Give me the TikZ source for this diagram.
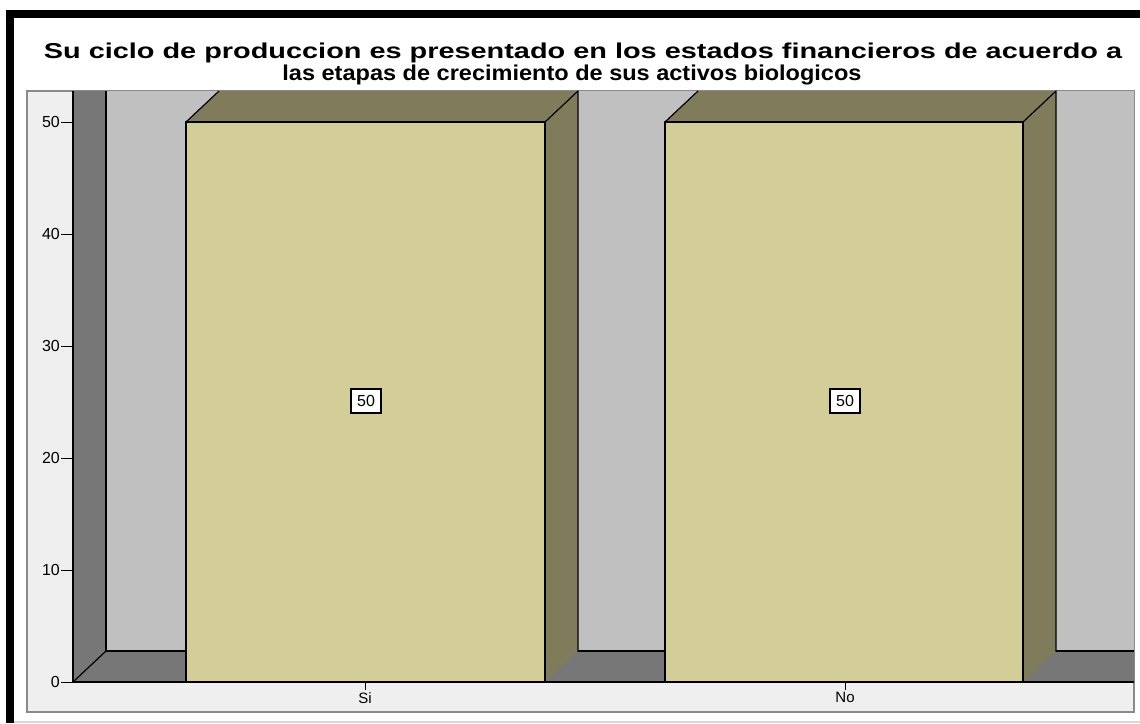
\documentclass[tikz,border=0pt]{standalone}
\usepackage{fontspec}
\setmainfont{Liberation Sans}
\definecolor{panel}{HTML}{EFEFEF}
\definecolor{backwall}{HTML}{C0C0C0}
\definecolor{sidewall}{HTML}{777777}
\definecolor{barfront}{HTML}{D3CE98}
\definecolor{barside}{HTML}{807C5B}
\definecolor{panelline}{HTML}{8A8A8A}
\begin{document}
\begin{tikzpicture}[x=1pt,y=-1pt,
  edge/.style={draw=black,line width=1.2pt,line join=round},
  ticklab/.style={anchor=east,inner sep=0pt,font=\fontsize{16}{16}\selectfont},
  catlab/.style={anchor=north,inner sep=0pt,font=\fontsize{15}{15}\selectfont},
  vallab/.style={draw=black,fill=white,line width=1.2pt,inner sep=2pt,minimum width=30pt,minimum height=24pt,font=\fontsize{16}{16}\selectfont},
  titlestyle/.style={anchor=base,inner sep=0pt,font=\fontsize{21.5}{21.5}\selectfont\bfseries}]
\useasboundingbox (0,0) rectangle (1140,723);
\fill[white] (0,0) rectangle (1140,723);
% outer frame
\fill[black] (6,10) rectangle (1140,18);
\fill[black] (6,10) rectangle (14,723);
\draw[black!15,line width=1.5pt] (14,722) -- (1140,722);
% title
\node[titlestyle] (t1) at (583,58) {\scalebox{1.343}[1]{Su ciclo de produccion es presentado en los estados financieros de acuerdo a}};
\node[titlestyle] (t2) at (572,80) {\scalebox{1.094}[1]{las etapas de crecimiento de sus activos biologicos}};
% panel
\filldraw[fill=panel,draw=panelline,line width=1.5pt] (27,91) rectangle (1134,712);
% walls
\fill[backwall] (106,91) rectangle (1134,651);
\fill[sidewall] (73,91) -- (106,91) -- (106,651) -- (73,682) -- cycle;
\fill[sidewall] (73,682) -- (106,651) -- (1134,651) -- (1134,682) -- cycle;
\draw[edge] (106,91) -- (106,651) -- (1134,651);
\draw[edge] (73,682) -- (106,651);
\draw[edge] (73,91) -- (73,682) -- (1134,682);
% bar Si
\fill[barfront] (186,122) rectangle (545,682);
\fill[barside] (545,122) -- (578,91) -- (578,651) -- (545,682) -- cycle;
\fill[barside] (186,122) -- (219,91) -- (578,91) -- (545,122) -- cycle;
\draw[edge] (186,682) -- (186,122) -- (545,122) -- (545,682);
\draw[edge] (186,122) -- (219,91);
\draw[edge] (545,122) -- (578,91) -- (578,651);
% bar No
\fill[barfront] (665,122) rectangle (1023,682);
\fill[barside] (1023,122) -- (1056,91) -- (1056,651) -- (1023,682) -- cycle;
\fill[barside] (665,122) -- (698,91) -- (1056,91) -- (1023,122) -- cycle;
\draw[edge] (665,682) -- (665,122) -- (1023,122) -- (1023,682);
\draw[edge] (665,122) -- (698,91);
\draw[edge] (1023,122) -- (1056,91) -- (1056,651);
\draw[edge] (73,682) -- (1134,682);
% y axis ticks
\foreach \v/\yy in {0/682,10/570,20/458,30/346,40/234,50/122}{
  \draw[black,line width=1pt] (61,\yy) -- (73,\yy);
  \node[ticklab] (y\v) at (60,\yy) {\v};
}
% x axis ticks
\draw[black,line width=1pt] (365,682) -- (365,690);
\draw[black,line width=1pt] (845,682) -- (845,690);
\node[catlab] (xsi) at (365,692) {Si};
\node[catlab] (xno) at (845,692) {No};
% value labels
\node[vallab] (v1) at (366,401) {50};
\node[vallab] (v2) at (845,401) {50};
\end{tikzpicture}
\end{document}
